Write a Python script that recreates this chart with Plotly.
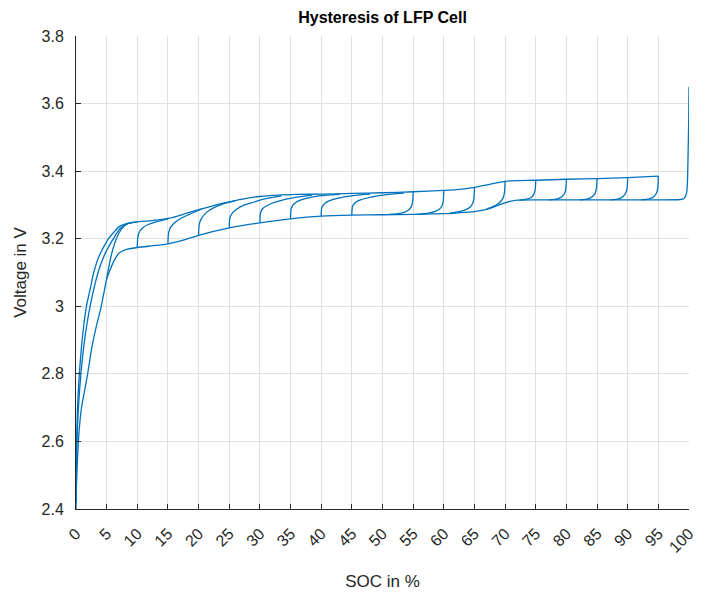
import plotly.graph_objects as go

# Charge branch: first charge from empty up to 95 % SOC
upper_soc = [0, 0.1, 0.25, 0.55, 1.0, 1.7, 2.3, 2.9, 3.8, 4.5, 5.3, 6.2, 7.0, 8.2, 10, 12, 14, 16, 18, 20,
             22, 24, 26, 28, 30, 33, 36, 40, 45, 50, 55, 60, 63, 65, 67.5, 70, 72, 75, 80, 85, 90, 95]
upper_v = [2.42, 2.6, 2.7, 2.8, 2.9, 3.0, 3.05, 3.1, 3.15, 3.175, 3.2, 3.22, 3.235, 3.245, 3.25, 3.253, 3.257,
           3.264, 3.275, 3.286, 3.296, 3.305, 3.313, 3.32, 3.325, 3.329, 3.331, 3.332, 3.334, 3.336, 3.339,
           3.343, 3.347, 3.352, 3.361, 3.37, 3.372, 3.373, 3.376, 3.378, 3.381, 3.385]

# Second charge from empty, merging into the charge branch at the knee
second_charge_soc = [0, 0.15, 0.4, 0.8, 1.4, 2.3, 3.6, 4.6, 6.1, 7.2, 8.5, 10]
second_charge_v = [2.42, 2.6, 2.7, 2.8, 2.9, 3.0, 3.1, 3.15, 3.2, 3.23, 3.245, 3.25]

# Discharge branch: from the full-charge peak at 100 % down to empty
lower_soc = [100, 99.95, 99.85, 99.75, 99.6, 99.2, 98.5, 95, 90, 85, 80, 75, 72, 71, 70, 69, 68, 67, 66, 65,
             62, 60, 57, 55, 50, 45, 40, 35, 30, 25, 20, 17.5, 15, 13, 10, 8, 7, 6.3, 5.5, 5.0, 4.5, 4.0,
             3.3, 2.6, 1.9, 1.4, 0.9, 0.5, 0.25, 0.08, 0]
lower_v = [3.65, 3.55, 3.45, 3.37, 3.335, 3.319, 3.316, 3.315, 3.315, 3.315, 3.315, 3.315, 3.314, 3.311,
           3.306, 3.3, 3.293, 3.287, 3.283, 3.28, 3.276, 3.274, 3.273, 3.272, 3.271, 3.27, 3.267, 3.259,
           3.247, 3.232, 3.21, 3.196, 3.185, 3.18, 3.174, 3.167, 3.157, 3.138, 3.105, 3.08, 3.035, 2.99,
           2.94, 2.88, 2.8, 2.75, 2.7, 2.63, 2.55, 2.47, 2.4]

# Partial charges started from the discharge branch
charge_05 = [(5.0, 3.08), (5.5, 3.13), (6.0, 3.168), (6.5, 3.196), (7.0, 3.216), (7.5, 3.231), (8.3, 3.243), (9.5, 3.249)]
charge_10 = [(10.0, 3.174), (10.03, 3.192), (10.12, 3.208), (10.4, 3.222), (11.0, 3.234), (11.8, 3.242), (13.5, 3.252), (15.0, 3.259)]
charge_15 = [(15.0, 3.185), (15.03, 3.203), (15.12, 3.219), (15.4, 3.233), (16.0, 3.246), (17.0, 3.259), (18.5, 3.272), (20.5, 3.288)]
charge_20 = [(20.0, 3.21), (20.03, 3.228), (20.12, 3.243), (20.4, 3.258), (21.3, 3.278), (22.5, 3.292), (24.0, 3.303), (26.0, 3.313)]
charge_25 = [(25.0, 3.232), (25.03, 3.25), (25.12, 3.263), (25.5, 3.276), (26.2, 3.287), (27.2, 3.298), (28.4, 3.305), (30.0, 3.314), (31.6, 3.321), (33.5, 3.327)]
charge_30 = [(30.0, 3.247), (30.03, 3.265), (30.12, 3.278), (30.5, 3.29), (31.6, 3.302), (33.8, 3.315), (36.0, 3.323), (38.5, 3.329)]
charge_35 = [(35.0, 3.259), (35.03, 3.277), (35.12, 3.29), (35.5, 3.302), (36.3, 3.312), (38.7, 3.324), (41.0, 3.329), (43.0, 3.331)]
charge_40 = [(40.0, 3.267), (40.03, 3.282), (40.12, 3.294), (40.5, 3.303), (41.2, 3.311), (43.6, 3.323), (46.0, 3.329), (48.0, 3.332)]
charge_45 = [(45.0, 3.27), (45.03, 3.285), (45.12, 3.297), (45.5, 3.306), (46.3, 3.314), (49.0, 3.326), (51.5, 3.332), (53.5, 3.335)]

# Partial discharges started from the charge branch
discharge_55 = [(55.0, 3.339), (54.97, 3.325), (54.9, 3.308), (54.7, 3.295), (54.3, 3.286), (53.6, 3.279), (52.5, 3.274), (51.0, 3.272)]
discharge_60 = [(60.0, 3.343), (59.97, 3.328), (59.9, 3.31), (59.7, 3.297), (59.3, 3.288), (58.6, 3.281), (57.5, 3.276), (56.0, 3.273)]
discharge_65 = [(65.0, 3.352), (64.97, 3.336), (64.9, 3.318), (64.7, 3.304), (64.3, 3.294), (63.6, 3.286), (62.5, 3.28), (61.0, 3.276)]
discharge_70 = [(70.0, 3.37), (69.97, 3.355), (69.9, 3.338), (69.7, 3.322), (69.3, 3.311), (68.8, 3.303), (68.0, 3.295), (67.0, 3.288)]
discharge_75 = [(75.0, 3.373), (74.97, 3.36), (74.9, 3.345), (74.7, 3.332), (74.3, 3.323), (73.5, 3.317), (72.3, 3.314)]
discharge_80 = [(80.0, 3.376), (79.97, 3.362), (79.9, 3.347), (79.7, 3.334), (79.3, 3.325), (78.5, 3.318), (77.2, 3.315)]
discharge_85 = [(85.0, 3.378), (84.97, 3.364), (84.9, 3.349), (84.7, 3.335), (84.3, 3.326), (83.5, 3.318), (82.2, 3.315)]
discharge_90 = [(90.0, 3.381), (89.97, 3.366), (89.9, 3.35), (89.7, 3.336), (89.3, 3.326), (88.5, 3.318), (87.2, 3.315)]
discharge_95 = [(95.0, 3.385), (94.97, 3.368), (94.9, 3.35), (94.7, 3.335), (94.3, 3.325), (93.5, 3.318), (92.2, 3.315)]

partial_cycles = [charge_05, charge_10, charge_15, charge_20, charge_25, charge_30, charge_35, charge_40,
                  charge_45, discharge_55, discharge_60, discharge_65, discharge_70, discharge_75,
                  discharge_80, discharge_85, discharge_90, discharge_95]

x_ticks = list(range(0, 101, 5))
y_ticks = [2.4, 2.6, 2.8, 3.0, 3.2, 3.4, 3.6, 3.8]
y_tick_text = ["2.4", "2.6", "2.8", "3", "3.2", "3.4", "3.6", "3.8"]

LINE_COLOR = "#0072BD"
TEXT_COLOR = "#262626"
FONT = "Liberation Sans, Arial, sans-serif"

fig = go.Figure()


def add_path(soc, volt):
    fig.add_trace(go.Scatter(
        x=soc, y=volt, mode="lines",
        line=dict(color=LINE_COLOR, width=1.3, shape="spline", smoothing=0.7),
        showlegend=False, hoverinfo="skip",
    ))


add_path(upper_soc, upper_v)
add_path(second_charge_soc, second_charge_v)
add_path(lower_soc, lower_v)
for cycle in partial_cycles:
    add_path([p[0] for p in cycle], [p[1] for p in cycle])

axis_common = dict(
    showgrid=True, gridcolor="#e0e0e0", gridwidth=1, automargin=False,
    zeroline=False, showline=True, linecolor=TEXT_COLOR, linewidth=1,
    ticks="inside", ticklen=5, tickcolor=TEXT_COLOR,
    tickfont=dict(family=FONT, size=16, color=TEXT_COLOR),
)

fig.update_layout(
    width=705, height=592,
    margin=dict(l=76, r=16, t=36, b=83),
    plot_bgcolor="white", paper_bgcolor="white",
    title=dict(
        text="<b>Hysteresis of LFP Cell</b>",
        x=0.5, xref="paper", y=1 - 17 / 592, yref="container",
        xanchor="center", yanchor="middle",
        font=dict(family=FONT, size=16, color="black"),
    ),
    xaxis=dict(
        range=[0, 100], tickvals=x_ticks, ticktext=[str(t) for t in x_ticks], tickangle=-45,
        ticklabelstandoff=8,
        title=dict(text="SOC in %", standoff=20, font=dict(family=FONT, size=17, color=TEXT_COLOR)),
        **axis_common,
    ),
    yaxis=dict(
        range=[2.4, 3.8], tickvals=y_ticks, ticktext=y_tick_text, ticklabelstandoff=8,
        title=dict(text="Voltage in V", standoff=10, font=dict(family=FONT, size=17, color=TEXT_COLOR)),
        **axis_common,
    ),
)

fig.write_html("out.html")
